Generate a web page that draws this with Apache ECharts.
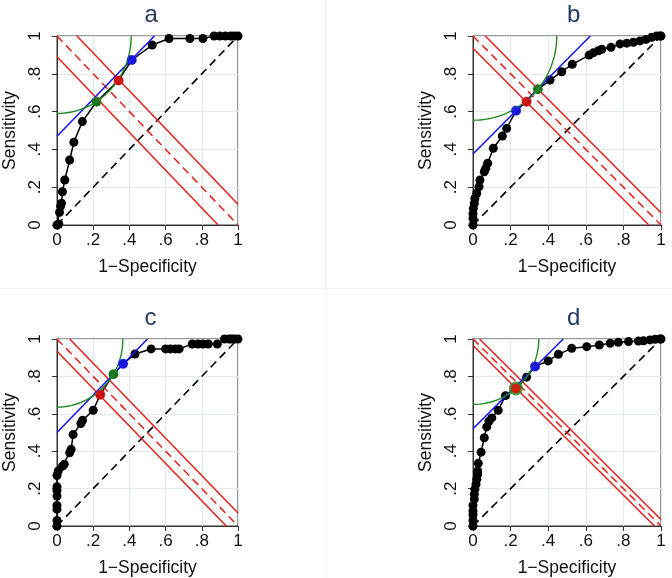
<!DOCTYPE html>
<html>
<head>
<meta charset="utf-8">
<script src="https://cdn.jsdelivr.net/npm/echarts@6/dist/echarts.min.js"></script>
<style>html,body{margin:0;padding:0;background:#fff}#c{width:672px;height:578px}</style>
</head>
<body>
<div id="c"></div>
<script>
// ---- data ----
const panelNames = ['a', 'b', 'c', 'd'];
const tickValues = [0, 0.2, 0.4, 0.6, 0.8, 1];
const tickLabels = ['0', '.2', '.4', '.6', '.8', '1'];
const xTitle = '1\u2212Specificity';
const yTitle = 'Sensitivity';

const rocAx = [0,0.01,0.014,0.02,0.025,0.03,0.043,0.07,0.093,0.14,0.218,0.34,0.413,0.526,0.619,0.734,0.806,0.868,0.9,0.93,0.96,0.98,1];
const rocAy = [0,0.005,0.067,0.1,0.115,0.176,0.238,0.344,0.438,0.547,0.652,0.765,0.873,0.952,0.987,0.987,0.987,1,1,1,1,1,1];

const rocBx = [0,0,0,0.002,0.007,0.01,0.02,0.032,0.037,0.06,0.068,0.078,0.108,0.156,0.179,0.229,0.285,0.345,0.41,0.472,0.528,0.618,0.64,0.667,0.685,0.734,0.782,0.818,0.853,0.888,0.92,0.95,0.977,0.995,1];
const rocBy = [0,0.035,0.06,0.088,0.115,0.14,0.168,0.203,0.238,0.282,0.3,0.327,0.406,0.471,0.511,0.605,0.652,0.718,0.767,0.811,0.85,0.899,0.911,0.922,0.93,0.94,0.958,0.962,0.967,0.974,0.982,0.993,1,1,1];

const rocCx = [0,0,0,0,0,0,0,0,0.007,0.03,0.04,0.07,0.078,0.089,0.132,0.141,0.2,0.239,0.312,0.365,0.431,0.52,0.6,0.627,0.654,0.675,0.747,0.779,0.806,0.836,0.886,0.925,0.95,0.965,0.98,1];
const rocCy = [0,0.03,0.09,0.11,0.16,0.19,0.21,0.27,0.294,0.32,0.33,0.392,0.41,0.489,0.548,0.565,0.619,0.702,0.812,0.867,0.92,0.947,0.947,0.947,0.947,0.947,0.973,0.973,0.973,0.973,0.973,1,1,1,1,1];

const rocDx = [0,0,0,0,0,0.007,0.007,0.01,0.016,0.02,0.025,0.025,0.028,0.043,0.06,0.073,0.085,0.1,0.134,0.173,0.228,0.285,0.33,0.4,0.454,0.525,0.605,0.672,0.73,0.773,0.827,0.88,0.907,0.941,0.968,0.995,1];
const rocDy = [0,0.03,0.06,0.08,0.11,0.144,0.17,0.197,0.223,0.25,0.277,0.294,0.335,0.395,0.472,0.53,0.56,0.578,0.619,0.697,0.735,0.796,0.853,0.883,0.918,0.95,0.959,0.968,0.977,0.982,0.986,0.989,0.99,0.995,0.998,1,1];

// highlighted points [x, y] per panel
const redPts   = [[0.34,0.765],[0.285,0.652],[0.239,0.702],[0.228,0.735]];
const bluePts  = [[0.413,0.873],[0.229,0.605],[0.365,0.867],[0.33,0.853]];
const greenPts = [[0.218,0.652],[0.345,0.718],[0.312,0.812],[0.228,0.735]];

// red iso-lines x + y = c
const redLow  = [0.89, 0.935, 0.935, 0.965];
const redMid  = [1.0, 1.0, 1.0, 1.0];
const redHigh = [1.11, 1.065, 1.07, 1.035];
// blue tangent y = b + m x
const blueIntercept = [0.47, 0.376, 0.5, 0.52];
const blueSlope = [0.985, 1.0, 1.0, 1.0];
// green circle centered (0,1)
const greenRadius = [0.41, 0.4455, 0.364, 0.35];

// ---- layout ----
const grids = [
  {left: 51, top: 36, width: 187, height: 189},
  {left: 473, top: 36, width: 188, height: 189},
  {left: 51, top: 339, width: 187, height: 188},
  {left: 473, top: 339, width: 188, height: 188}
];
const FONT = '"Liberation Sans", Arial, Helvetica, sans-serif';
const rocs = [[rocAx,rocAy],[rocBx,rocBy],[rocCx,rocCy],[rocDx,rocDy]];

function zip(xs, ys){ return xs.map((x,i)=>[x, ys[i]]); }
function isoLine(c){
  if (c >= 1) return [[c-1, 1],[1, c-1]];
  return [[0, c],[c, 0]];
}
function blueLine(b, m){ return [[0, b],[(1-b)/m, 1]]; }
function arc(r){
  const pts = [];
  for (let i = 0; i <= 60; i++){
    const t = -Math.PI/2 + (Math.PI/2)*i/60;
    pts.push([r*Math.cos(t), 1 + r*Math.sin(t)]);
  }
  return pts;
}
function fmt(v){ const i = tickValues.findIndex(t=>Math.abs(t-v)<1e-6); return i>=0 ? tickLabels[i] : ''; }

const xAxes = [], yAxes = [], series = [], graphics = [];
const axisCommon = {
  type: 'value', min: 0, max: 1, interval: 0.2,
  axisLine: {show: true, onZero: false, lineStyle: {color: '#333', width: 1}},
  axisTick: {show: true, length: 5, lineStyle: {color: '#333'}},
  splitLine: {show: true, lineStyle: {color: '#e3eaef', width: 1}},
  nameTextStyle: {fontFamily: FONT, fontSize: 17.5, color: '#111'},
};
grids.forEach((g, k) => {
  xAxes.push(Object.assign({}, axisCommon, {
    gridIndex: k, name: xTitle, nameLocation: 'middle', nameGap: 33,
    axisLabel: {formatter: fmt, fontFamily: FONT, fontSize: 17, color: '#111', margin: 7}
  }));
  yAxes.push(Object.assign({}, axisCommon, {
    gridIndex: k, name: yTitle, nameLocation: 'middle', nameGap: 38,
    axisLabel: {formatter: fmt, fontFamily: FONT, fontSize: 17, color: '#111', rotate: 90, margin: 13}
  }));
  const base = {xAxisIndex: k, yAxisIndex: k, animation: false, silent: true};
  // diagonal
  series.push(Object.assign({}, base, {type: 'line', z: 2, data: [[tickValues[0], tickValues[0]],[tickValues[5], tickValues[5]]], symbol: 'none',
    lineStyle: {color: '#000', width: 1.6, type: [8, 5]}}));
  // ROC
  series.push(Object.assign({}, base, {type: 'line', z: 3, data: zip(rocs[k][0], rocs[k][1]), symbol: 'circle', symbolSize: 9, clip: false,
    itemStyle: {color: '#000'}, lineStyle: {color: '#000', width: 1.5}}));
  // red lines
  [redLow[k], redHigh[k]].forEach(c => series.push(Object.assign({}, base, {type: 'line', z: 4, data: isoLine(c), symbol: 'none',
    lineStyle: {color: '#e3201b', width: 1.5}})));
  series.push(Object.assign({}, base, {type: 'line', z: 4, data: isoLine(redMid[k]), symbol: 'none',
    lineStyle: {color: '#e3201b', width: 1.5, type: [8, 5]}}));
  // blue tangent
  series.push(Object.assign({}, base, {type: 'line', z: 4, data: blueLine(blueIntercept[k], blueSlope[k]), symbol: 'none',
    lineStyle: {color: '#1010f0', width: 1.5}}));
  // green arc
  series.push(Object.assign({}, base, {type: 'line', z: 4, data: arc(greenRadius[k]), symbol: 'none', smooth: false,
    lineStyle: {color: '#1f8a1f', width: 1.4}}));
  // highlight points
  series.push(Object.assign({}, base, {type: 'scatter', z: 10, data: [greenPts[k]], symbolSize: k === 3 ? 14 : 10, itemStyle: {color: '#1f8a1f'}}));
  series.push(Object.assign({}, base, {type: 'scatter', z: 11, data: [bluePts[k]], symbolSize: 10, itemStyle: {color: '#1a1aff'}}));
  series.push(Object.assign({}, base, {type: 'scatter', z: 12, data: [redPts[k]], symbolSize: 10, itemStyle: {color: '#f01010'}}));
  // title
  graphics.push({type: 'text', left: g.left + g.width/2, top: g.top - 33, z: 20,
    style: {text: panelNames[k], font: '24px ' + FONT, fill: '#243a62', textAlign: 'center'}});
});
// faint separators
graphics.push({type: 'rect', shape: {x: 325, y: 0, width: 1, height: 288}, style: {fill: '#eef2f4'}});
graphics.push({type: 'rect', shape: {x: 0, y: 288, width: 672, height: 1}, style: {fill: '#eef2f4'}});
graphics.push({type: 'rect', shape: {x: 325, y: 289, width: 1, height: 289}, style: {fill: '#f2f5f6'}});

const chart = echarts.init(document.getElementById('c'), null, {renderer: 'canvas'});
chart.setOption({
  animation: false,
  backgroundColor: '#fff',
  grid: grids.map(g => Object.assign({show: true, borderColor: '#333', borderWidth: 1, backgroundColor: 'transparent'}, g)),
  xAxis: xAxes, yAxis: yAxes, series: series, graphic: graphics
});
</script>
</body>
</html>
